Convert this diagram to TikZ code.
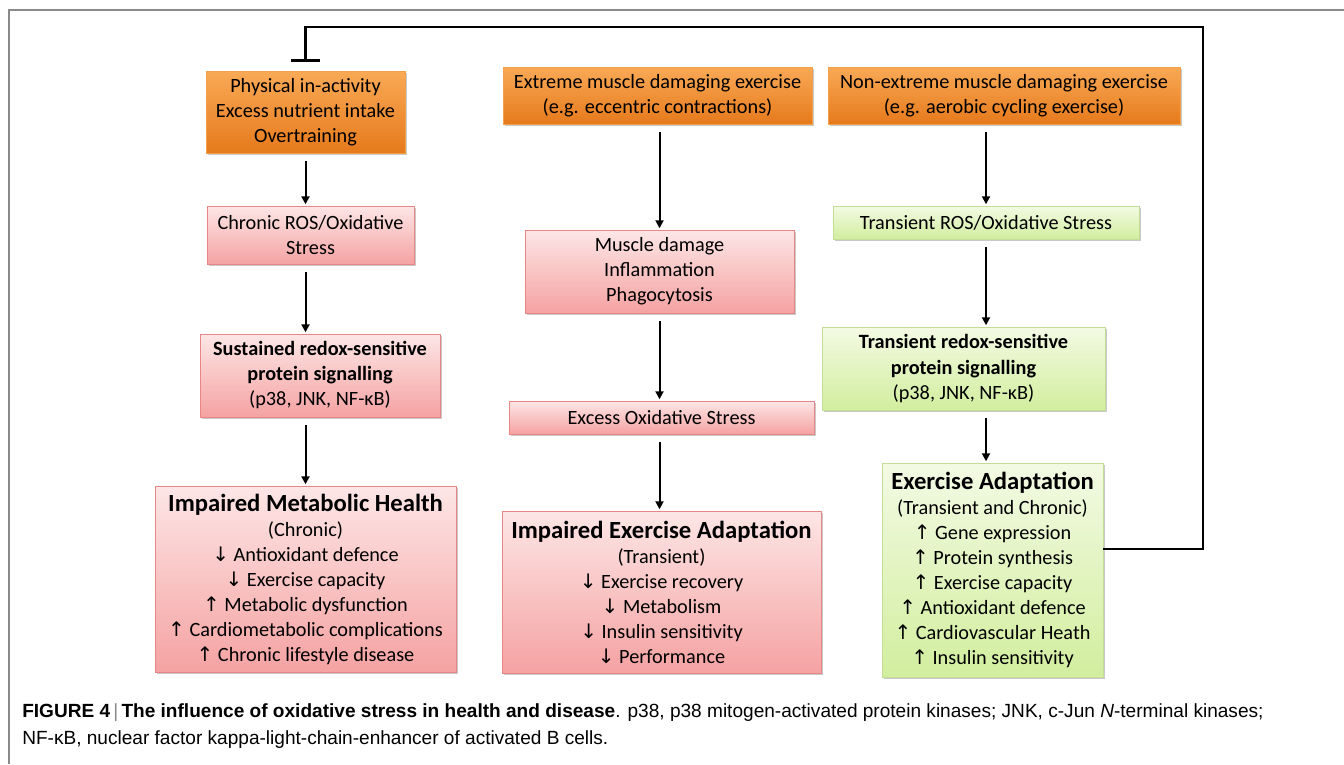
\documentclass[tikz,border=0pt]{standalone}
\usepackage{fontspec}
\setmainfont{Carlito}
\newfontfamily\arrowfont{DejaVu Sans}
\newfontfamily\captionfont{Liberation Sans}
\usetikzlibrary{positioning,arrows.meta,shadows}

\definecolor{orangetop}{HTML}{F9A956}
\definecolor{orangebot}{HTML}{E67A1C}
\definecolor{orangeline}{HTML}{F2A04A}
\definecolor{pinktop}{HTML}{FDE6E6}
\definecolor{pinkbot}{HTML}{F5A2A2}
\definecolor{pinkline}{HTML}{E88686}
\definecolor{greentop}{HTML}{F3FAE4}
\definecolor{greenbot}{HTML}{D2EE9E}
\definecolor{greenline}{HTML}{C3DD96}
\definecolor{framegray}{HTML}{8A8A8A}

\newcommand{\upar}{{\arrowfont\fontsize{15}{15}\selectfont ↑}}
\newcommand{\downar}{{\arrowfont\fontsize{15}{15}\selectfont ↓}}
\newcommand{\bigtitle}[1]{{\fontsize{18.5}{20}\selectfont\bfseries #1}}

\tikzset{
  box/.style={draw, line width=0.6pt, inner sep=0pt, align=center,
    font=\fontsize{15.2}{18.75}\selectfont,
    drop shadow={shadow xshift=1.2pt, shadow yshift=-1.5pt, opacity=0.3, fill=black!70}},
  srcbox/.style={box, draw=orangeline, top color=orangetop, bottom color=orangebot},
  redbox/.style={box, draw=pinkline, top color=pinktop, bottom color=pinkbot},
  okbox/.style={box, draw=greenline, top color=greentop, bottom color=greenbot},
  arr/.style={-{Triangle[length=6pt,width=6pt]}, line width=1.5pt, shorten <=6pt, shorten >=1pt},
  fb/.style={-{Bar[width=22pt]}, line width=2.2pt, shorten >=6.5pt},
}

\begin{document}
\begin{tikzpicture}[x=0.75pt,y=-0.75pt]
        \useasboundingbox (0,0) rectangle (1344,764);
        % frame
        \draw[framegray, line width=1.1pt] (1344,10) -- (9,10) -- (9,764);

        % Define nodes
        % left column
        \node[srcbox, minimum width=149.25pt, minimum height=61.5pt] (l_1) at (305.5,112) {Physical in-activity\\Excess nutrient intake\\Overtraining}; %
        \node[redbox, minimum width=155.25pt, minimum height=43.5pt] (l_2) at (310.5,235) {Chronic ROS/Oxidative\\Stress}; %
        \node[redbox, minimum width=180pt, minimum height=62.25pt] (l_3) at (320,375.5) {\textbf{Sustained redox-sensitive}\\\textbf{protein signalling}\\(p38, JNK, NF-κB)}; %
        \node[redbox, minimum width=225.75pt, minimum height=139.5pt] (l_4) at (305.5,579) {\bigtitle{Impaired Metabolic Health}\\(Chronic)\\\downar{} Antioxidant defence\\\downar{} Exercise capacity\\\upar{} Metabolic dysfunction\\\upar{} Cardiometabolic complications\\\upar{} Chronic lifestyle disease}; %

        % middle column
        \node[srcbox, minimum width=231.75pt, minimum height=42.75pt] (m_1) at (657.5,95.5) {Extreme muscle damaging exercise\\(e.g. eccentric contractions)}; %
        \node[redbox, minimum width=201.75pt, minimum height=62.25pt] (m_2) at (659.5,271.5) {Muscle damage\\Inflammation\\Phagocytosis}; %
        \node[redbox, minimum width=228.75pt, minimum height=24.75pt] (m_3) at (661.5,417.5) {Excess Oxidative Stress}; %
        \node[redbox, minimum width=239.25pt, minimum height=121.5pt] (m_4) at (661.5,592) {\bigtitle{Impaired Exercise Adaptation}\\(Transient)\\\downar{} Exercise recovery\\\downar{} Metabolism\\\downar{} Insulin sensitivity\\\downar{} Performance}; %

        % right column
        \node[srcbox, minimum width=264pt, minimum height=42.75pt] (r_1) at (1004,95.5) {Non-extreme muscle damaging exercise\\(e.g. aerobic cycling exercise)}; %
        \node[okbox, minimum width=229.5pt, minimum height=24.75pt] (r_2) at (986,222.5) {Transient ROS/Oxidative Stress}; %
        \node[okbox, minimum width=212.25pt, minimum height=62.25pt] (r_3) at (963.5,368.5) {\textbf{Transient redox-sensitive}\\\textbf{protein signalling}\\(p38, JNK, NF-κB)}; %
        \node[okbox, minimum width=165.75pt, minimum height=160.5pt] (r_4) at (992.5,570) {\bigtitle{Exercise Adaptation}\\(Transient and Chronic)\\\upar{} Gene expression\\\upar{} Protein synthesis\\\upar{} Exercise capacity\\\upar{} Antioxidant defence\\\upar{} Cardiovascular Heath\\\upar{} Insulin sensitivity}; %

        % arrows
        \draw[arr] (l_1.south) -- (l_1.south |- l_2.north);
        \draw[arr] (l_1.south |- l_2.south) -- (l_1.south |- l_3.north);
        \draw[arr] (l_1.south |- l_3.south) -- (l_1.south |- l_4.north);
        \draw[arr] (m_2.north |- m_1.south) -- (m_2.north);
        \draw[arr] (m_2.south) -- (m_2.south |- m_3.north);
        \draw[arr] (m_2.south |- m_3.south) -- (m_2.south |- m_4.north);
        \draw[arr] (r_1.south -| r_2.north) -- (r_2.north);
        \draw[arr] (r_2.south) -- (r_2.south |- r_3.north);
        \draw[arr] (r_2.south |- r_3.south) -- (r_2.south |- r_4.north);

        % feedback
        \coordinate (fb_r) at (1203,27);
        \coordinate (fb_l) at (l_1.north |- fb_r);
        \draw[fb] ([yshift=15.75pt]r_4.east) -| (fb_r) -- (fb_l) -- (l_1.north);

        % caption
        \node[anchor=north west, inner sep=0pt, align=left, font=\captionfont\fontsize{14.3}{20.25}\selectfont] (cap) at (22,703) {\textbf{FIGURE 4}\,{\color{framegray}|}\,\textbf{The influence of oxidative stress in health and disease}. p38, p38 mitogen-activated protein kinases; JNK, c-Jun \textit{N}-terminal kinases;\\NF-κB, nuclear factor kappa-light-chain-enhancer of activated B cells.};
    \end{tikzpicture}
\end{document}
